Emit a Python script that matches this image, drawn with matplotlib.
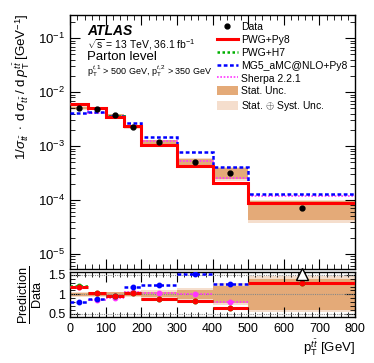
import numpy as np
import matplotlib
matplotlib.use("Agg")
import matplotlib.pyplot as plt
from matplotlib.patches import Patch
from matplotlib.lines import Line2D
from matplotlib.ticker import MultipleLocator, LogLocator, NullFormatter, FixedLocator

plt.rcParams['font.family'] = ['Liberation Sans', 'DejaVu Sans']
plt.rcParams['mathtext.fontset'] = 'custom'
plt.rcParams['mathtext.rm'] = 'Liberation Sans'
plt.rcParams['mathtext.it'] = 'Liberation Sans:italic'
plt.rcParams['mathtext.bf'] = 'Liberation Sans:bold'

# ---- data ----
edges = [0, 50, 100, 150, 200, 300, 400, 500, 800]
data = [5.1e-3, 4.9e-3, 3.7e-3, 2.25e-3, 1.2e-3, 5.1e-4, 3.2e-4, 7.0e-5]
stat_rel = [0.04, 0.04, 0.05, 0.05, 0.07, 0.12, 0.22, 0.40]
tot_rel = [0.07, 0.06, 0.07, 0.08, 0.10, 0.16, 0.28, 0.46]

pwg_py8 = [6.07e-3, 5.05e-3, 3.53e-3, 2.34e-3, 1.07e-3, 4.28e-4, 2.08e-4, 8.96e-5]
pwg_h7 = [6.17e-3, 5.05e-3, 3.55e-3, 2.32e-3, 1.04e-3, 4.28e-4, 2.08e-4, 8.96e-5]
mg5 = [4.08e-3, 4.29e-3, 3.59e-3, 2.66e-3, 1.50e-3, 7.70e-4, 4.06e-4, 1.27e-4]
sherpa = [6.10e-3, 4.17e-3, 3.37e-3, 2.36e-3, 1.25e-3, 5.20e-4, 2.56e-4, 1.19e-4]

ratio_pwg_py8 = [1.19, 1.03, 0.955, 1.04, 0.89, 0.84, 0.65, 1.28]
ratio_pwg_h7 = [1.21, 1.03, 0.96, 1.03, 0.87, 0.84, 0.65, 1.28]
ratio_mg5 = [0.80, 0.875, 0.97, 1.18, 1.25, 1.51, 1.27, 1.81]
ratio_sherpa = [1.20, 0.85, 0.91, 1.05, 1.045, 1.02, 0.80, 1.70]

edges = np.array(edges, float)
data = np.array(data)
stat_rel = np.array(stat_rel)
tot_rel = np.array(tot_rel)
centers = 0.5 * (edges[:-1] + edges[1:])

c_dark = '#e4aa78'
c_light = '#f5decd'
RED = '#ff0000'
GREEN = '#00b000'
BLUE = '#0000ff'
MAG = '#ff33ff'

styles = [
    ('PWG+Py8', pwg_py8, ratio_pwg_py8, RED, '-', 2.2),
    ('PWG+H7', pwg_h7, ratio_pwg_h7, GREEN, (0, (1, 1)), 1.8),
    ('MG5_aMC@NLO+Py8', mg5, ratio_mg5, BLUE, (0, (1.5, 1)), 1.8),
    ('Sherpa 2.2.1', sherpa, ratio_sherpa, MAG, (0, (1, 1)), 1.2),
]

W, H = 374, 363
fig = plt.figure(figsize=(W / 100, H / 100), dpi=100)
left = 70.3 / W
right = 355 / W
ax = fig.add_axes([left, 1 - 269.3 / H, right - left, (269.3 - 15) / H])
axr = fig.add_axes([left, 1 - 317 / H, right - left, (317 - 271.7) / H])

# ---- main panel ----
ax.stairs(data * (1 + tot_rel), edges, baseline=data * (1 - tot_rel), fill=True, color=c_light, lw=0)
ax.stairs(data * (1 + stat_rel), edges, baseline=data * (1 - stat_rel), fill=True, color=c_dark, lw=0)
order = [3, 2, 1, 0]
for i in order:
    name, vals, rat, col, ls, lw = styles[i]
    ax.stairs(vals, edges, color=col, linestyle=ls, lw=lw, baseline=None, zorder=3 + (4 - i) * 0.1)
ax.plot(centers, data, 'o', color='black', ms=3.5, zorder=6)

ax.set_yscale('log')
ax.set_ylim(5.2e-6, 0.27)
ax.set_xlim(0, 800)
ax.xaxis.set_major_locator(MultipleLocator(100))
ax.xaxis.set_minor_locator(MultipleLocator(20))
ax.yaxis.set_major_locator(LogLocator(base=10, numticks=20))
ax.yaxis.set_minor_locator(LogLocator(base=10, subs=np.arange(2, 10), numticks=20))
ax.yaxis.set_minor_formatter(NullFormatter())
ax.set_xticklabels([])
ax.tick_params(axis='both', which='both', direction='in', top=True, right=True)
ax.tick_params(axis='both', which='major', length=7, width=0.8)
ax.tick_params(axis='both', which='minor', length=3.5, width=0.6)
ax.tick_params(axis='y', labelsize=9.5)

fig.text(22 / W, 1 - 13 / H,
         r'$1/\sigma_{t\bar{t}}\;\cdot\;\mathrm{d}\;\sigma_{t\bar{t}}\;/\;\mathrm{d}\;p_{\mathrm{T}}^{t\bar{t}}\;[\mathrm{GeV}^{-1}]$',
         fontsize=9.6, rotation=90, ha='center', va='top')

fig.text(87 / W, 1 - 31 / H, 'ATLAS', fontsize=10,
         fontweight='bold', fontstyle='italic', va='center', ha='left')
fig.text(87 / W, 1 - 44.5 / H, r'$\sqrt{\mathrm{s}}$ = 13 TeV, 36.1 fb$^{-1}$',
         fontsize=7.5, va='center', ha='left')
fig.text(87 / W, 1 - 57 / H, 'Parton level',
         fontsize=9.5, va='center', ha='left')
fig.text(87 / W, 1 - 71 / H,
         r'$\mathrm{p}_{\mathrm{T}}^{t,1}$ > 500 GeV, $\mathrm{p}_{\mathrm{T}}^{t,2}$ > 350 GeV',
         fontsize=6.5, va='center', ha='left')

handles = [Line2D([], [], marker='o', color='black', ls='none', ms=3.5)]
labels = ['Data']
for name, vals, rat, col, ls, lw in styles:
    handles.append(Line2D([], [], color=col, ls=ls, lw=lw))
    labels.append(name)
handles.append(Patch(facecolor=c_dark, edgecolor='none'))
labels.append('Stat. Unc.')
handles.append(Patch(facecolor=c_light, edgecolor='none'))
labels.append(r'Stat. $\oplus$ Syst. Unc.')
ax.legend(handles, labels, loc='upper left', bbox_to_anchor=(217 / W, 1 - 22 / H),
          bbox_transform=fig.transFigure, frameon=False, fontsize=7.5,
          handlelength=2.0, handleheight=1.0, handletextpad=0.35, labelspacing=0.25,
          borderpad=0, borderaxespad=0)

# ---- ratio panel ----
ones = np.ones_like(data)
axr.stairs(ones + tot_rel, edges, baseline=ones - tot_rel, fill=True, color=c_light, lw=0)
axr.stairs(ones + stat_rel, edges, baseline=ones - stat_rel, fill=True, color=c_dark, lw=0)
for yv in [0.5, 1.0, 1.5]:
    axr.axhline(yv, color='#888888', ls=(0, (1, 1)), lw=0.8, zorder=2)
for i in order:
    name, vals, rat, col, ls, lw = styles[i]
    rat = np.array(rat)
    axr.hlines(rat, edges[:-1], edges[1:], colors=col, linestyles=ls, lw=lw, zorder=3 + (4 - i) * 0.1)
    axr.plot(centers, rat, 'o', color=col, ms=3.2, zorder=3.5 + (4 - i) * 0.1)
axr.plot([650], [1.51], marker='^', ms=8, mfc='white', mec='black', mew=1.0, ls='none', zorder=6, clip_on=False)

axr.set_xlim(0, 800)
axr.set_ylim(0.42, 1.58)
axr.xaxis.set_major_locator(MultipleLocator(100))
axr.xaxis.set_minor_locator(MultipleLocator(20))
axr.yaxis.set_major_locator(FixedLocator([0.5, 1.0, 1.5]))
axr.yaxis.set_minor_locator(MultipleLocator(0.1))
axr.set_yticklabels(['0.5', '1', '1.5'])
axr.tick_params(axis='both', which='both', direction='in', top=True, right=True)
axr.tick_params(axis='both', which='major', length=7, width=0.8)
axr.tick_params(axis='both', which='minor', length=3.5, width=0.6)
axr.tick_params(axis='both', labelsize=9)
axr.tick_params(axis='x', pad=4)
for a in (ax, axr):
    for s in a.spines.values():
        s.set_linewidth(1.0)

fig.text(30 / W, 1 - 295 / H, r'$\frac{\mathrm{Prediction}}{\mathrm{Data}}$', fontsize=13,
         rotation=90, ha='center', va='center')
axr.set_xlabel(r'$\mathrm{p}_{\mathrm{T}}^{t\bar{t}}$ [GeV]', fontsize=9.5, loc='right', labelpad=2)

fig.savefig('out.png', dpi=100)
